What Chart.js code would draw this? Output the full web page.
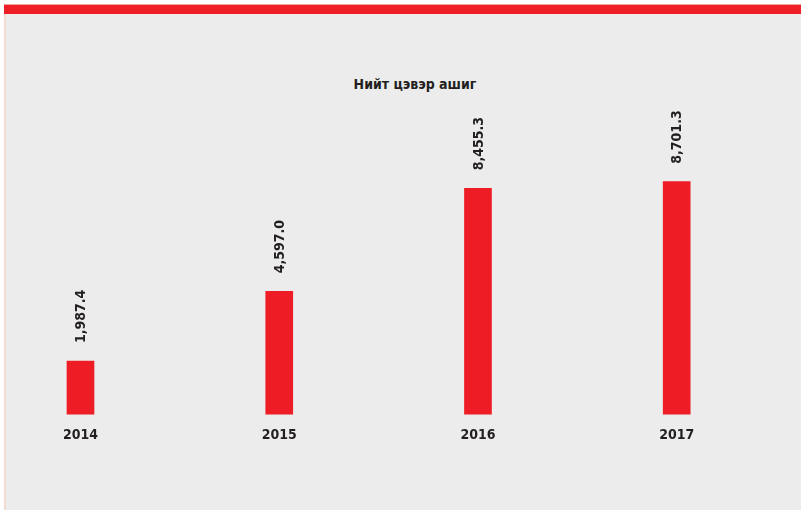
<!DOCTYPE html>
<html>
<head>
<meta charset="utf-8">
<script src="https://cdn.jsdelivr.net/npm/chart.js@4/dist/chart.umd.min.js"></script>
<style>
    html, body { margin: 0; padding: 0; background: #ffffff; }
    .frame {
        position: absolute; left: 4px; top: 4px; width: 795px; height: 506px;
        background: #EBECEB; border-left: 2px solid #F3DAD2;
    }
    .topbar {
        position: absolute; left: 4px; top: 4px; width: 797px; height: 10px;
        background: #EE1F26; border-top: 1px solid #F0A59A; box-sizing: border-box;
    }
    .title {
        position: absolute; left: 315px; width: 200px; top: 76px; text-align: center;
        font-family: "Liberation Sans Narrow", "DejaVu Sans Condensed", sans-serif;
        font-weight: bold; font-size: 14px; color: #231F20;
    }
    canvas { position: absolute; left: 0; top: 0; }
</style>
</head>
<body>
<div class="frame"></div>
<div class="topbar"></div>
<div class="title">Нийт цэвэр ашиг</div>
<canvas id="profitChart" width="801" height="510"></canvas>
<script>
// Нийт цэвэр ашиг (сая төгрөг)
const years = ["2014", "2015", "2016", "2017"];
const netProfit = [1987.4, 4597.0, 8455.3, 8701.3];

const barRed = "#EE1D25";
const textDark = "#231F20";
const labelFont = "'Liberation Sans Narrow', 'DejaVu Sans Condensed', sans-serif";

// Утгыг баганын дээр босоогоор бичих
const valueLabels = {
    id: "valueLabels",
    afterDatasetsDraw(chart) {
        const ctx = chart.ctx;
        const meta = chart.getDatasetMeta(0);
        ctx.save();
        ctx.fillStyle = textDark;
        ctx.font = "bold 14px " + labelFont;
        ctx.textAlign = "left";
        ctx.textBaseline = "middle";
        meta.data.forEach((bar, i) => {
            const txt = netProfit[i].toLocaleString("en-US", { minimumFractionDigits: 1, maximumFractionDigits: 1 });
            ctx.save();
            ctx.translate(bar.x, bar.y - 18);
            ctx.rotate(-Math.PI / 2);
            ctx.fillText(txt, 0, 1);
            ctx.restore();
        });
        ctx.restore();
    }
};

new Chart(document.getElementById("profitChart"), {
    type: "bar",
    data: {
        labels: years,
        datasets: [{
            data: netProfit,
            backgroundColor: barRed,
            barThickness: 27,
            clip: false
        }]
    },
    options: {
        responsive: false,
        animation: false,
        layout: { padding: { left: 80.5, right: 124.3, top: 147, bottom: 53 } },
        plugins: {
            legend: { display: false },
            tooltip: { enabled: false }
        },
        scales: {
            x: {
                offset: false,
                grid: { display: false, drawTicks: false },
                border: { display: false },
                ticks: {
                    padding: 13,
                    color: textDark,
                    font: { family: labelFont, size: 14, weight: "bold" }
                }
            },
            y: {
                display: false,
                min: 0,
                max: 10000
            }
        }
    },
    plugins: [valueLabels]
});
</script>
</body>
</html>
